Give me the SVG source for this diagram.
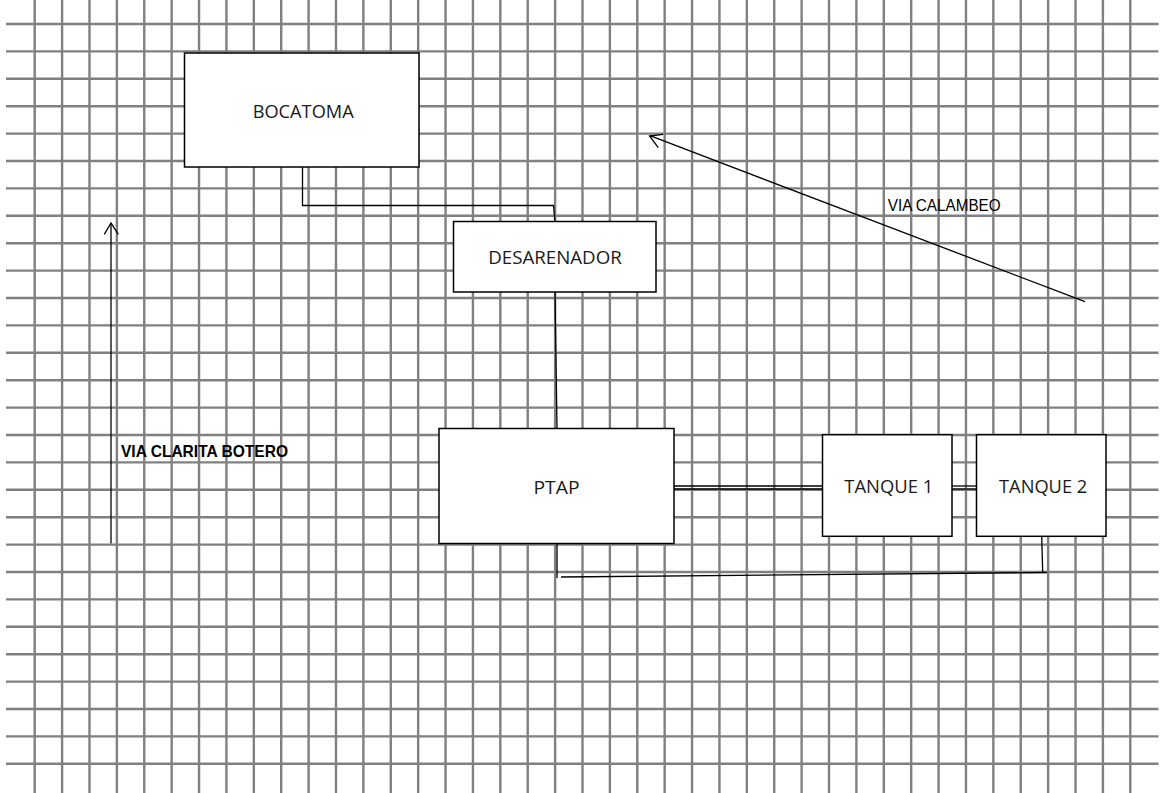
<svg xmlns="http://www.w3.org/2000/svg" width="1173" height="793" viewBox="0 0 1173 793">
<style>
.grid{stroke:#808080;stroke-width:2.4;fill:none}
.box{fill:#ffffff;stroke:#000000;stroke-width:1.5}
.lbl{font-family:"Open Sans","Liberation Sans",sans-serif;font-size:18.5px;fill:#1a1a1a}
.road{font-family:"Liberation Sans",Arial,sans-serif;font-size:17px;fill:#000}
.conn{stroke:#000;stroke-width:1.3;fill:none}
</style>
<rect width="1173" height="793" fill="#ffffff"/>
<g id="grid">
<path class="grid" d="M34.7 0V793M62.09 0V793M89.48 0V793M116.87 0V793M144.26 0V793M171.65 0V793M199.04 0V793M226.43 0V793M253.82 0V793M281.21 0V793M308.6 0V793M335.99 0V793M363.38 0V793M390.77 0V793M418.16 0V793M445.55 0V793M472.94 0V793M500.33 0V793M527.72 0V793M555.11 0V793M582.5 0V793M609.89 0V793M637.28 0V793M664.67 0V793M692.06 0V793M719.45 0V793M746.84 0V793M774.23 0V793M801.62 0V793M829.01 0V793M856.4 0V793M883.79 0V793M911.18 0V793M938.57 0V793M965.96 0V793M993.35 0V793M1020.74 0V793M1048.13 0V793M1075.52 0V793M1102.91 0V793M1130.3 0V793"/>
<path class="grid" d="M6 24H1158.5M6 51.4H1158.5M6 78.8H1158.5M6 106.2H1158.5M6 133.6H1158.5M6 161H1158.5M6 188.4H1158.5M6 215.8H1158.5M6 243.2H1158.5M6 270.6H1158.5M6 298H1158.5M6 325.4H1158.5M6 352.8H1158.5M6 380.2H1158.5M6 407.6H1158.5M6 435H1158.5M6 462.4H1158.5M6 489.8H1158.5M6 517.2H1158.5M6 544.6H1158.5M6 572H1158.5M6 599.4H1158.5M6 626.8H1158.5M6 654.2H1158.5M6 681.6H1158.5M6 709H1158.5M6 736.4H1158.5M6 763.8H1158.5"/>
</g>
<g id="connectors">
<polyline class="conn" points="302.5,167 302.5,205.5 553.5,205.5 555,221.5"/>
<line class="conn" x1="555" y1="292" x2="557" y2="428.5"/>
<line class="conn" x1="674" y1="486" x2="822.5" y2="486"/>
<line class="conn" x1="674" y1="489" x2="822.5" y2="489"/>
<line class="conn" x1="952" y1="486" x2="976.5" y2="486"/>
<line class="conn" x1="952" y1="489" x2="976.5" y2="489"/>
<line class="conn" x1="557" y1="543.5" x2="557" y2="578"/>
<line class="conn" x1="561" y1="577" x2="1047" y2="572.5"/>
<line class="conn" x1="1041.7" y1="536.5" x2="1042.7" y2="572.5"/>
</g>
<g id="via-clarita-botero">
<line class="conn" x1="111" y1="543.5" x2="111" y2="223"/>
<polyline class="conn" points="104.3,234.3 111,223 118.3,234.3"/>
<text class="road" x="121" y="457.3" font-weight="bold" textLength="167" lengthAdjust="spacingAndGlyphs">VIA CLARITA BOTERO</text>
</g>
<g id="via-calambeo">
<line class="conn" x1="1085" y1="301.7" x2="650" y2="135.7"/>
<polyline class="conn" points="663,134.3 649.5,136 658.3,147.7"/>
<text class="road" x="887.7" y="210.7" textLength="113" lengthAdjust="spacingAndGlyphs">VIA CALAMBEO</text>
</g>
<g id="bocatoma">
<rect class="box" x="184.5" y="53" width="234.5" height="114"/>
<text class="lbl" x="252.7" y="118.3" textLength="101" lengthAdjust="spacingAndGlyphs">BOCATOMA</text>
</g>
<g id="desarenador">
<rect class="box" x="453.5" y="221.5" width="202.5" height="70.5"/>
<text class="lbl" x="488.3" y="264" textLength="133.4" lengthAdjust="spacingAndGlyphs">DESARENADOR</text>
</g>
<g id="ptap">
<rect class="box" x="439" y="428.5" width="235" height="115"/>
<text class="lbl" x="533.5" y="493.5" textLength="46" lengthAdjust="spacingAndGlyphs">PTAP</text>
</g>
<g id="tanque1">
<rect class="box" x="822.5" y="434.7" width="129.5" height="101.6"/>
<text class="lbl" x="844.3" y="493.3" textLength="89" lengthAdjust="spacingAndGlyphs">TANQUE 1</text>
</g>
<g id="tanque2">
<rect class="box" x="976.5" y="434.7" width="129.5" height="101.6"/>
<text class="lbl" x="999" y="493.3" textLength="88.3" lengthAdjust="spacingAndGlyphs">TANQUE 2</text>
</g>
</svg>
